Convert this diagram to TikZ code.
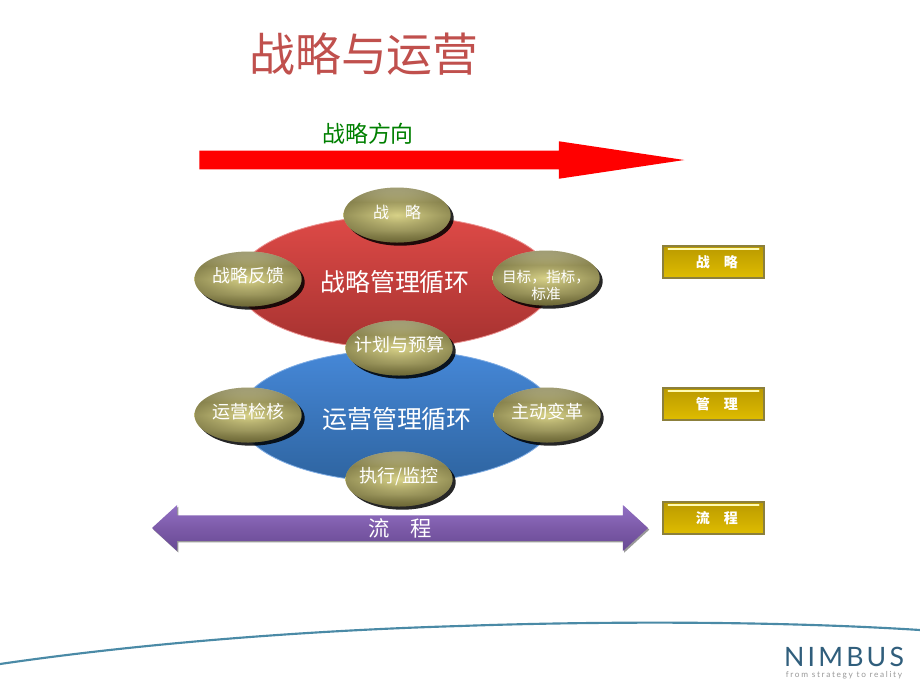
\documentclass[tikz,border=0pt]{standalone}
\usepackage{fontspec}
\setmainfont{Noto Sans CJK SC}
\newfontfamily\latinfont[LetterSpace=12]{Lato}
\newfontfamily\tagfont[LetterSpace=20]{Lato}
\usetikzlibrary{calc,positioning,arrows.meta,shapes.geometric,shapes.arrows,shadows,fadings}

\definecolor{titlered}{RGB}{192,80,77}
\definecolor{swooshblue}{RGB}{74,138,166}
\definecolor{nimbusblue}{RGB}{48,94,124}
\definecolor{goldrim}{RGB}{96,92,48}
\definecolor{ballA}{RGB}{238,235,200}
\definecolor{ballB}{RGB}{184,178,114}
\definecolor{ballC}{RGB}{216,210,136}
\definecolor{ballD}{RGB}{124,118,62}
\pgfdeclareverticalshading{goldball}{100bp}{color(0bp)=(ballD); color(25bp)=(ballD); color(36bp)=(ballB); color(50bp)=(ballC); color(62bp)=(ballB); color(75bp)=(ballA); color(100bp)=(ballA)}
\definecolor{boxA}{RGB}{224,190,0}
\definecolor{boxB}{RGB}{208,174,0}
\definecolor{boxC}{RGB}{186,154,0}
\definecolor{boxrim}{RGB}{140,128,60}
\pgfdeclareverticalshading{goldbox}{100bp}{color(0bp)=(boxA); color(25bp)=(boxA); color(45bp)=(boxB); color(75bp)=(boxC); color(100bp)=(boxC)}
\definecolor{redA}{RGB}{222,74,71}
\definecolor{redB}{RGB}{166,50,48}
\definecolor{blueA}{RGB}{70,136,216}
\definecolor{blueB}{RGB}{46,100,160}
\definecolor{flowA}{RGB}{146,112,196}
\definecolor{flowB}{RGB}{124,90,168}
\definecolor{flowC}{RGB}{104,74,148}
\tikzfading[name=rimfade,inner color=transparent!100,outer color=transparent!45]

\begin{document}
\begin{tikzpicture}[x=.75pt,y=-.75pt,
    ball/.style={ellipse,minimum width=80.25pt,minimum height=41.25pt,inner xsep=-14pt,inner ysep=-8pt,align=center,text=white,font=\fontsize{13.5}{15}\selectfont,text height=10.5pt,text depth=5pt,shading=goldball,drop shadow={shadow xshift=2.4pt,shadow yshift=-2.4pt,fill=black,opacity=.85},postaction={fill=goldrim,path fading=rimfade}},
    loopring/.style={ellipse,minimum width=237pt,minimum height=99pt,inner sep=0pt,text=white,font=\fontsize{18.7}{20}\selectfont},
    tagbox/.style={rectangle,minimum width=75.5pt,minimum height=24.5pt,inner sep=0pt,draw=boxrim,line width=1.3pt,shading=goldbox,text=white,font=\fontsize{10.5}{12}\selectfont\bfseries}]
    \useasboundingbox (0,0) rectangle (920,690);
    \fill[white] (0,0) rectangle (920,690);

    \node[text=titlered,font=\fontsize{34.4}{36}\selectfont] (title) at (364,54) {战略与运营};
    \node[text=green!50!black,font=\fontsize{17.2}{19}\selectfont] (dirlabel) at (368,134) {战略方向};
    \node[single arrow,anchor=tail,fill=red,minimum height=363.75pt,minimum width=27pt,inner sep=0pt,text height=13.5pt,text depth=0pt,single arrow head indent=0pt,single arrow tip angle=17] (dirarrow) at (199,160) {};

    \node[loopring,draw=blueA!70!white,line width=.6pt,top color=blueA,bottom color=blueB] (opring) at (397,416) {\rule{0pt}{21pt}运营管理循环};
    \node[loopring,draw=redA!60!white,line width=.6pt,top color=redA,bottom color=redB] (stratring) at (395,282) {战略管理循环};

    \node[ball,font=\fontsize{12}{14}\selectfont] (b1) at (397,215) {战\hspace{1em}略};
    \node[ball] (b2) at (248,279) {战略反馈};
    \node[ball,font=\fontsize{11}{12.5}\selectfont,text height=,text depth=] (b3) at (546,278) {\rule{0pt}{20pt}目标，指标，\\标准};
    \node[ball] (b4) at (399,348) {计划与预算};
    \node[ball] (b5) at (248,415) {运营检核};
    \node[ball] (b6) at (547,415) {主动变革};
    \node[ball] (b7) at (399,479) {执行/监控};

    \node[double arrow,minimum height=372pt,minimum width=34.5pt,inner xsep=0pt,inner ysep=0pt,text height=15pt,text depth=2.3pt,double arrow head indent=0pt,double arrow tip angle=85,top color=flowA,bottom color=flowC,middle color=flowB,drop shadow={shadow xshift=1pt,shadow yshift=-1.2pt,fill=black,opacity=.4},text=white,font=\fontsize{16}{17}\selectfont] (flow) at (400,528) {流　程};

    \foreach \y/\txt/\nm in {262/战　略/t1,404/管　理/t2,518/流　程/t3} {
        \node[tagbox] (\nm) at (713.5,\y) {\hspace*{5pt}\txt};
        \draw[white!70!yellow,line width=1.2pt,line cap=round] ($(\nm.north west)+(6,4)$) -- ($(\nm.north east)+(-6,4)$);
    }

    \coordinate (swooshL) at (0,664);
    \coordinate (swooshM) at (460,626);
    \coordinate (swooshR) at (920,630);
    \draw[swooshblue,line width=1.6pt] (swooshL) .. controls (150,642) and (320,630) .. (swooshM) .. controls (600,621) and (780,621) .. (swooshR);

    \node[text=nimbusblue,font=\latinfont\fontsize{20}{22}\selectfont] (nimbus) at (844,657) {NIMBUS};
    \node[text=gray!80,font=\tagfont\fontsize{6.2}{7}\selectfont] (tagline) at (844,675) {from strategy to reality};
\end{tikzpicture}
\end{document}
